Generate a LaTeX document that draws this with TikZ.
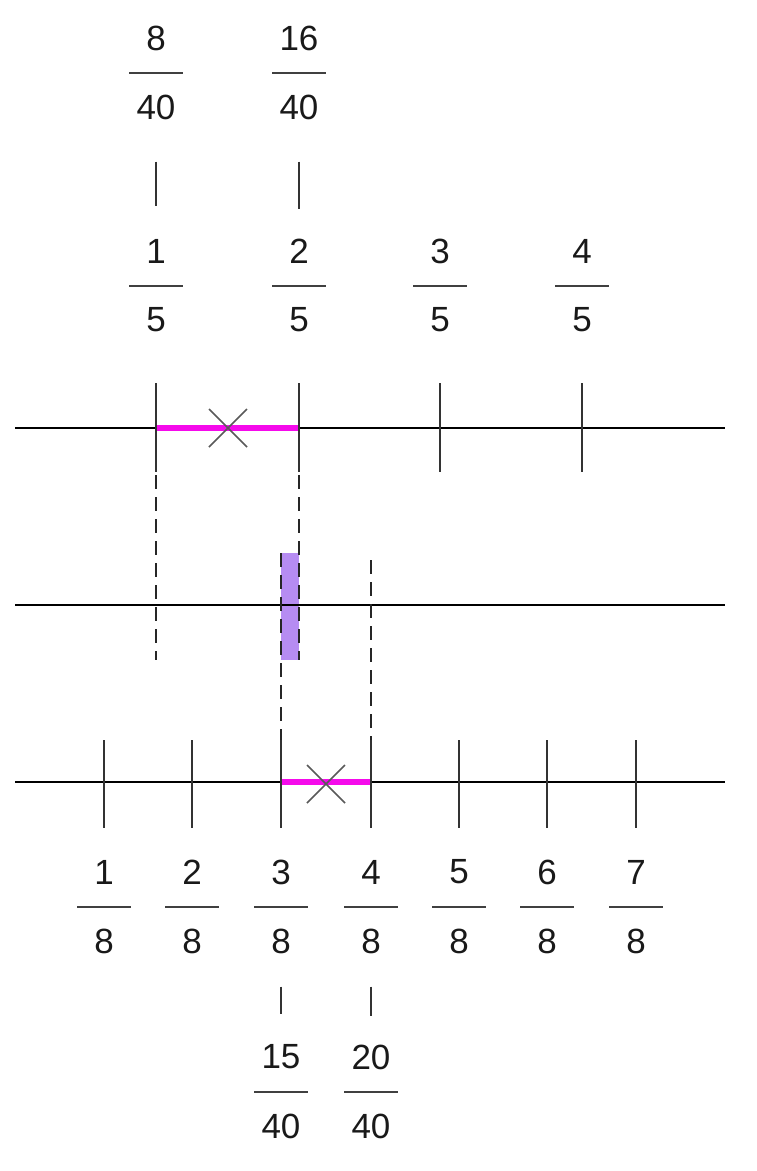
\documentclass[tikz,border=0pt]{standalone}
\usepackage{fontspec}
\setmainfont{Liberation Sans}
\usetikzlibrary{calc}
\definecolor{hlmag}{RGB}{245,10,235}
\definecolor{lav}{RGB}{182,140,242}
\newcommand\fracnode[5]{% name, x, bar y, numerator, denominator
  \coordinate (#1b) at (#2,#3);
  \node[lbl] (#1n) at (#2,#3-35) {#4};
  \draw[fracbar] ([xshift=-27pt]#1b) -- ([xshift=27pt]#1b);
  \node[lbl] (#1d) at (#2,#3+34) {#5};}
\begin{document}
\begin{tikzpicture}[x=1pt,y=-1pt,
  lbl/.style={inner sep=0pt, font=\fontsize{35}{35}\selectfont, text=black!90},
  fracbar/.style={line width=2.2pt, draw=black!75},
  axis/.style={line width=2.8pt, draw=black},
  tickline/.style={line width=2pt, draw=black!80},
  hl/.style={line width=5.5pt, draw=hlmag},
  cross/.style={line width=1.6pt, draw=black!65},
  guide/.style={line width=1.8pt, draw=black!85, dash pattern=on 14pt off 8pt},
  link/.style={line width=2pt, draw=black!80}]
\useasboundingbox (0,0) rectangle (756,1171);

% fraction labels
\fracnode{ta}{156}{73}{8}{40}
\fracnode{tb}{299}{73}{16}{40}
\fracnode{fa}{156}{286}{1}{5}
\fracnode{fb}{299}{286}{2}{5}
\fracnode{fc}{440}{286}{3}{5}
\fracnode{fd}{582}{286}{4}{5}
\fracnode{ea}{104}{907}{1}{8}
\fracnode{eb}{192}{907}{2}{8}
\fracnode{ec}{281}{907}{3}{8}
\fracnode{ed}{371}{907}{4}{8}
\fracnode{ee}{459}{907}{5}{8}
\fracnode{ef}{547}{907}{6}{8}
\fracnode{eg}{636}{907}{7}{8}
\fracnode{ba}{281}{1092}{15}{40}
\fracnode{bb}{371}{1092}{20}{40}

% links between equal fractions
\draw[link] ($(tad.south)+(0,42)$) -- ($(fan.north)+(0,-33)$);
\draw[link] ($(tbd.south)+(0,42)$) -- ($(fbn.north)+(0,-30)$);
\draw[link] ($(ecd.south)+(0,33)$) -- ($(ban.north)+(0,-31)$);
\draw[link] ($(edd.south)+(0,33)$) -- ($(bbn.north)+(0,-28)$);

% top number line
\coordinate (T0) at (15,428); \coordinate (T1) at (725,428);
\draw[axis] (T0) -- (T1);
\coordinate (P1) at (156,428); \coordinate (P2) at (299,428);
\draw[hl] (P1) -- (P2);
\foreach \x in {156,299,440,582} \draw[tickline] (\x,383) -- (\x,472);
\coordinate (XT) at (228,428);
\draw[cross] ($(XT)+(-19,-19)$) -- ($(XT)+(19,19)$);
\draw[cross] ($(XT)+(-19,19)$) -- ($(XT)+(19,-19)$);

% middle line
\fill[lav] (281,553) rectangle (299,660);
\coordinate (M0) at (15,605); \coordinate (M1) at (725,605);
\draw[axis] (M0) -- (M1);
\draw[guide] (156,475) -- (156,660);
\draw[guide] (299,475) -- (299,660);
\draw[guide] (281,553) -- (281,740);
\draw[guide] (371,560) -- (371,740);

% bottom number line
\coordinate (B0) at (15,782); \coordinate (B1) at (725,782);
\draw[axis] (B0) -- (B1);
\coordinate (Q1) at (281,782); \coordinate (Q2) at (371,782);
\draw[hl] (Q1) -- (Q2);
\foreach \x in {104,192,281,371,459,547,636} \draw[tickline] (\x,740) -- (\x,828);
\coordinate (XB) at (326,784);
\draw[cross] ($(XB)+(-19,-19)$) -- ($(XB)+(19,19)$);
\draw[cross] ($(XB)+(-19,19)$) -- ($(XB)+(19,-19)$);
\end{tikzpicture}
\end{document}
